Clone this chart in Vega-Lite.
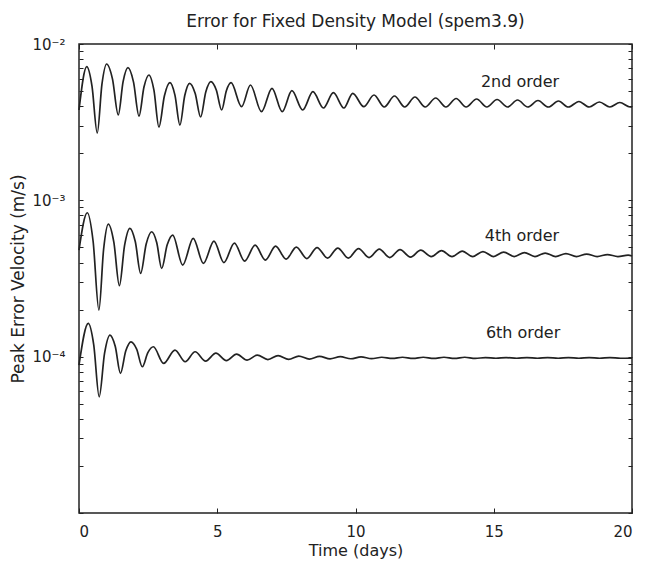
{
  "$schema": "https://vega.github.io/schema/vega-lite/v6.json",
  "width": 553,
  "height": 469,
  "autosize": {"type": "none"},
  "padding": {"left": 79, "top": 44, "right": 14, "bottom": 50},
  "background": "white",
  "title": {"text": "Error for Fixed Density Model (spem3.9)", "font": "DejaVu Sans", "fontSize": 17, "fontWeight": "normal", "color": "#222", "offset": 6, "anchor": "middle"},
  "config": {
    "view": {"stroke": "#222", "strokeWidth": 1.5},
    "font": "DejaVu Sans",
    "axis": {"labelFont": "DejaVu Sans", "labelFontSize": 15, "labelColor": "#222", "titleFont": "DejaVu Sans", "titleFontSize": 17, "titleFontWeight": "normal", "titleColor": "#222", "tickColor": "#222", "grid": false, "domain": false, "labelOverlap": false}
  },
  "resolve": {"axis": {"x": "independent", "y": "independent"}},
  "layer": [
    {
      "data": {"values": [
        {"s":"2nd","t":0,"v":3.782e-3},{"s":"2nd","t":0.28,"v":7.158e-3},{"s":"2nd","t":0.47,"v":5.378e-3},{"s":"2nd","t":0.66,"v":2.695e-3},{"s":"2nd","t":0.83,"v":5.531e-3},{"s":"2nd","t":1.0,"v":7.448e-3},{"s":"2nd","t":1.21,"v":5.980e-3},{"s":"2nd","t":1.42,"v":3.514e-3},{"s":"2nd","t":1.595,"v":5.747e-3},{"s":"2nd","t":1.77,"v":7.053e-3},{"s":"2nd","t":1.97,"v":5.722e-3},{"s":"2nd","t":2.17,"v":3.462e-3},{"s":"2nd","t":2.35,"v":5.308e-3},{"s":"2nd","t":2.53,"v":6.334e-3},{"s":"2nd","t":2.71,"v":5.063e-3},{"s":"2nd","t":2.89,"v":2.944e-3},{"s":"2nd","t":3.09,"v":4.669e-3},{"s":"2nd","t":3.29,"v":5.655e-3},{"s":"2nd","t":3.47,"v":4.710e-3},{"s":"2nd","t":3.65,"v":3.032e-3},{"s":"2nd","t":3.825,"v":4.683e-3},{"s":"2nd","t":4.0,"v":5.605e-3},{"s":"2nd","t":4.2,"v":4.844e-3},{"s":"2nd","t":4.4,"v":3.412e-3},{"s":"2nd","t":4.585,"v":4.931e-3},{"s":"2nd","t":4.77,"v":5.739e-3},{"s":"2nd","t":4.965,"v":5.078e-3},{"s":"2nd","t":5.16,"v":3.782e-3},{"s":"2nd","t":5.33,"v":5.026e-3},{"s":"2nd","t":5.5,"v":5.655e-3},{"s":"2nd","t":5.88,"v":3.971e-3},{"s":"2nd","t":6.2,"v":5.466e-3},{"s":"2nd","t":6.6,"v":3.689e-3},{"s":"2nd","t":6.98,"v":5.207e-3},{"s":"2nd","t":7.35,"v":3.689e-3},{"s":"2nd","t":7.7,"v":5.026e-3},{"s":"2nd","t":8.09,"v":3.782e-3},{"s":"2nd","t":8.46,"v":4.952e-3},{"s":"2nd","t":8.84,"v":3.895e-3},{"s":"2nd","t":9.2,"v":4.880e-3},{"s":"2nd","t":9.58,"v":3.895e-3},{"s":"2nd","t":9.9,"v":4.837e-3},{"s":"2nd","t":10.3,"v":3.971e-3},{"s":"2nd","t":10.67,"v":4.718e-3},{"s":"2nd","t":11.04,"v":3.953e-3},{"s":"2nd","t":11.41,"v":4.649e-3},{"s":"2nd","t":11.78,"v":3.953e-3},{"s":"2nd","t":12.15,"v":4.580e-3},{"s":"2nd","t":12.52,"v":3.953e-3},{"s":"2nd","t":12.9,"v":4.513e-3},{"s":"2nd","t":13.27,"v":3.953e-3},{"s":"2nd","t":13.64,"v":4.480e-3},{"s":"2nd","t":14.0,"v":3.953e-3},{"s":"2nd","t":14.38,"v":4.447e-3},{"s":"2nd","t":14.75,"v":3.953e-3},{"s":"2nd","t":15.12,"v":4.415e-3},{"s":"2nd","t":15.5,"v":3.953e-3},{"s":"2nd","t":15.86,"v":4.382e-3},{"s":"2nd","t":16.23,"v":3.953e-3},{"s":"2nd","t":16.6,"v":4.350e-3},{"s":"2nd","t":16.97,"v":3.953e-3},{"s":"2nd","t":17.34,"v":4.318e-3},{"s":"2nd","t":17.7,"v":3.953e-3},{"s":"2nd","t":18.08,"v":4.287e-3},{"s":"2nd","t":18.45,"v":3.953e-3},{"s":"2nd","t":18.82,"v":4.255e-3},{"s":"2nd","t":19.2,"v":3.953e-3},{"s":"2nd","t":19.56,"v":4.224e-3},{"s":"2nd","t":19.93,"v":3.953e-3},{"s":"2nd","t":20,"v":3.96e-3},
        {"s":"4th","t":0,"v":4.809e-4},{"s":"4th","t":0.30,"v":8.330e-4},{"s":"4th","t":0.51,"v":5.474e-4},{"s":"4th","t":0.72,"v":1.987e-4},{"s":"4th","t":0.89,"v":4.866e-4},{"s":"4th","t":1.06,"v":7.053e-4},{"s":"4th","t":1.26,"v":5.402e-4},{"s":"4th","t":1.46,"v":2.842e-4},{"s":"4th","t":1.65,"v":5.169e-4},{"s":"4th","t":1.84,"v":6.620e-4},{"s":"4th","t":2.035,"v":5.450e-4},{"s":"4th","t":2.23,"v":3.412e-4},{"s":"4th","t":2.43,"v":5.261e-4},{"s":"4th","t":2.63,"v":6.297e-4},{"s":"4th","t":2.81,"v":5.378e-4},{"s":"4th","t":2.99,"v":3.672e-4},{"s":"4th","t":3.19,"v":5.192e-4},{"s":"4th","t":3.39,"v":5.998e-4},{"s":"4th","t":3.75,"v":3.855e-4},{"s":"4th","t":4.13,"v":5.713e-4},{"s":"4th","t":4.5,"v":3.953e-4},{"s":"4th","t":4.88,"v":5.490e-4},{"s":"4th","t":5.24,"v":4.000e-4},{"s":"4th","t":5.62,"v":5.331e-4},{"s":"4th","t":5.99,"v":4.089e-4},{"s":"4th","t":6.37,"v":5.176e-4},{"s":"4th","t":6.74,"v":4.150e-4},{"s":"4th","t":7.11,"v":5.101e-4},{"s":"4th","t":7.49,"v":4.211e-4},{"s":"4th","t":7.86,"v":5.026e-4},{"s":"4th","t":8.24,"v":4.243e-4},{"s":"4th","t":8.61,"v":4.989e-4},{"s":"4th","t":8.99,"v":4.274e-4},{"s":"4th","t":9.36,"v":4.952e-4},{"s":"4th","t":9.74,"v":4.274e-4},{"s":"4th","t":10.11,"v":4.916e-4},{"s":"4th","t":10.49,"v":4.306e-4},{"s":"4th","t":10.86,"v":4.880e-4},{"s":"4th","t":11.24,"v":4.306e-4},{"s":"4th","t":11.61,"v":4.844e-4},{"s":"4th","t":11.99,"v":4.337e-4},{"s":"4th","t":12.36,"v":4.809e-4},{"s":"4th","t":12.74,"v":4.369e-4},{"s":"4th","t":13.11,"v":4.774e-4},{"s":"4th","t":13.49,"v":4.369e-4},{"s":"4th","t":13.86,"v":4.738e-4},{"s":"4th","t":14.24,"v":4.369e-4},{"s":"4th","t":14.61,"v":4.704e-4},{"s":"4th","t":14.99,"v":4.369e-4},{"s":"4th","t":15.36,"v":4.669e-4},{"s":"4th","t":15.74,"v":4.369e-4},{"s":"4th","t":16.11,"v":4.635e-4},{"s":"4th","t":16.49,"v":4.369e-4},{"s":"4th","t":16.86,"v":4.601e-4},{"s":"4th","t":17.24,"v":4.369e-4},{"s":"4th","t":17.61,"v":4.567e-4},{"s":"4th","t":17.99,"v":4.369e-4},{"s":"4th","t":18.36,"v":4.533e-4},{"s":"4th","t":18.74,"v":4.369e-4},{"s":"4th","t":19.11,"v":4.500e-4},{"s":"4th","t":19.49,"v":4.369e-4},{"s":"4th","t":19.86,"v":4.467e-4},{"s":"4th","t":20,"v":4.40e-4},
        {"s":"6th","t":0,"v":8.836e-5},{"s":"6th","t":0.336,"v":1.633e-4},{"s":"6th","t":0.533,"v":1.190e-4},{"s":"6th","t":0.73,"v":5.539e-5},{"s":"6th","t":0.925,"v":1.053e-4},{"s":"6th","t":1.12,"v":1.375e-4},{"s":"6th","t":1.31,"v":1.166e-4},{"s":"6th","t":1.5,"v":7.819e-5},{"s":"6th","t":1.69,"v":1.086e-4},{"s":"6th","t":1.88,"v":1.245e-4},{"s":"6th","t":2.085,"v":1.118e-4},{"s":"6th","t":2.29,"v":8.617e-5},{"s":"6th","t":2.49,"v":1.061e-4},{"s":"6th","t":2.69,"v":1.157e-4},{"s":"6th","t":3.06,"v":9.060e-5},{"s":"6th","t":3.47,"v":1.102e-4},{"s":"6th","t":3.84,"v":9.276e-5},{"s":"6th","t":4.2,"v":1.075e-4},{"s":"6th","t":4.58,"v":9.372e-5},{"s":"6th","t":4.95,"v":1.054e-4},{"s":"6th","t":5.33,"v":9.442e-5},{"s":"6th","t":5.7,"v":1.039e-4},{"s":"6th","t":6.08,"v":9.511e-5},{"s":"6th","t":6.45,"v":1.024e-4},{"s":"6th","t":6.83,"v":9.582e-5},{"s":"6th","t":7.2,"v":1.016e-4},{"s":"6th","t":7.58,"v":9.610e-5},{"s":"6th","t":7.95,"v":1.009e-4},{"s":"6th","t":8.33,"v":9.653e-5},{"s":"6th","t":8.7,"v":1.004e-4},{"s":"6th","t":9.08,"v":9.681e-5},{"s":"6th","t":9.45,"v":1.000e-4},{"s":"6th","t":9.83,"v":9.695e-5},{"s":"6th","t":10.2,"v":9.971e-5},{"s":"6th","t":10.58,"v":9.710e-5},{"s":"6th","t":10.95,"v":9.912e-5},{"s":"6th","t":11.33,"v":9.738e-5},{"s":"6th","t":11.7,"v":9.912e-5},{"s":"6th","t":12.08,"v":9.738e-5},{"s":"6th","t":12.45,"v":9.912e-5},{"s":"6th","t":12.83,"v":9.738e-5},{"s":"6th","t":13.2,"v":9.912e-5},{"s":"6th","t":13.58,"v":9.738e-5},{"s":"6th","t":13.95,"v":9.912e-5},{"s":"6th","t":14.33,"v":9.738e-5},{"s":"6th","t":14.7,"v":9.868e-5},{"s":"6th","t":15.08,"v":9.767e-5},{"s":"6th","t":15.45,"v":9.868e-5},{"s":"6th","t":15.83,"v":9.767e-5},{"s":"6th","t":16.2,"v":9.868e-5},{"s":"6th","t":16.58,"v":9.767e-5},{"s":"6th","t":16.95,"v":9.868e-5},{"s":"6th","t":17.33,"v":9.767e-5},{"s":"6th","t":17.7,"v":9.868e-5},{"s":"6th","t":18.08,"v":9.767e-5},{"s":"6th","t":18.45,"v":9.868e-5},{"s":"6th","t":18.83,"v":9.767e-5},{"s":"6th","t":19.2,"v":9.868e-5},{"s":"6th","t":19.58,"v":9.767e-5},{"s":"6th","t":20,"v":9.80e-5}
      ]},
      "mark": {"type": "line", "interpolate": "monotone", "color": "#222", "strokeWidth": 1.7},
      "encoding": {
        "x": {"field": "t", "type": "quantitative", "scale": {"domain": [0, 20], "nice": false, "zero": false},
              "axis": {"orient": "bottom", "values": [0, 5, 10, 15, 20], "title": "Time (days)", "titleFontSize": 16, "tickSize": -5, "labelPadding": 16, "titlePadding": 3}},
        "y": {"field": "v", "type": "quantitative", "scale": {"type": "log", "domain": [0.00001, 0.01], "nice": false},
              "axis": {"orient": "left", "title": "Peak Error Velocity (m/s)", "tickSize": -4, "labelPadding": 18, "titlePadding": 4,
                       "values": [0.00001,0.00002,0.00003,0.00004,0.00005,0.00006,0.00007,0.00008,0.00009,0.0001,0.0002,0.0003,0.0004,0.0005,0.0006,0.0007,0.0008,0.0009,0.001,0.002,0.003,0.004,0.005,0.006,0.007,0.008,0.009,0.01],
                       "labelExpr": "datum.value > 0.0099 && datum.value < 0.0101 ? '10⁻²' : datum.value > 0.00099 && datum.value < 0.00101 ? '10⁻³' : datum.value > 0.000099 && datum.value < 0.000101 ? '10⁻⁴' : ''"}},
        "detail": {"field": "s", "type": "nominal"}
      }
    },
    {
      "data": {"values": [
        {"label": "2nd order", "t": 15.95, "v": 5.713e-3},
        {"label": "4th order", "t": 16.02, "v": 5.91e-4},
        {"label": "6th order", "t": 16.06, "v": 1.416e-4}
      ]},
      "mark": {"type": "text", "font": "DejaVu Sans", "fontSize": 16, "color": "#222", "align": "center", "baseline": "middle"},
      "encoding": {
        "x": {"field": "t", "type": "quantitative", "axis": {"orient": "top", "values": [0, 5, 10, 15, 20], "labels": false, "title": null, "tickSize": -5}},
        "y": {"field": "v", "type": "quantitative", "scale": {"type": "log"},
              "axis": {"orient": "right", "labels": false, "title": null, "tickSize": -4,
                       "values": [0.00001,0.00002,0.00003,0.00004,0.00005,0.00006,0.00007,0.00008,0.00009,0.0001,0.0002,0.0003,0.0004,0.0005,0.0006,0.0007,0.0008,0.0009,0.001,0.002,0.003,0.004,0.005,0.006,0.007,0.008,0.009,0.01]}},
        "text": {"field": "label"}
      }
    }
  ]
}
